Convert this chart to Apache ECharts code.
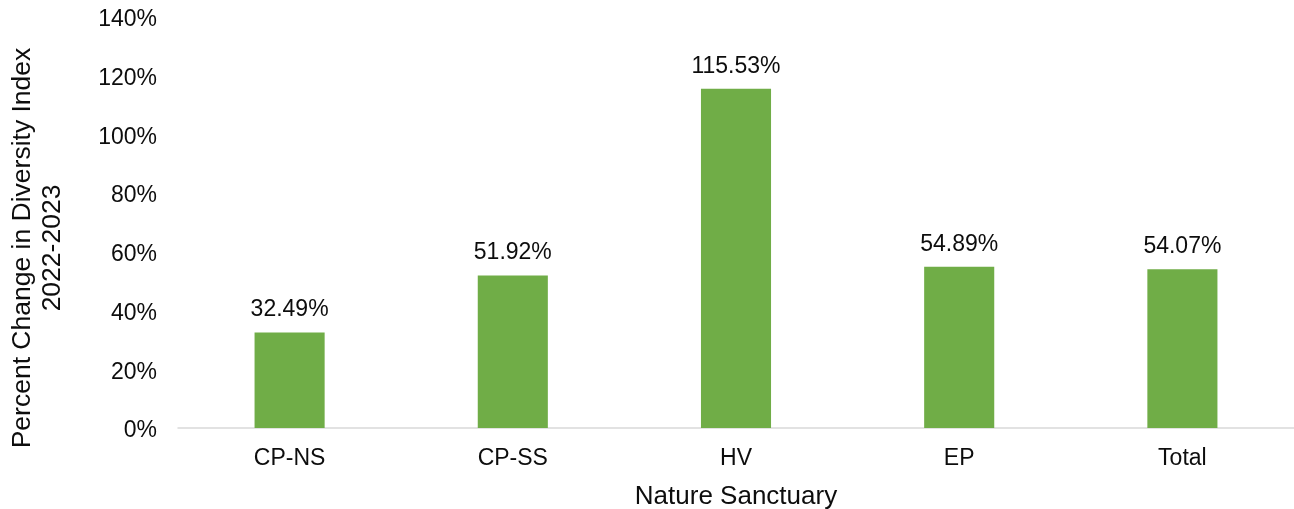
<!DOCTYPE html>
<html>
<head>
<meta charset="utf-8">
<title>Percent Change in Diversity Index 2022-2023</title>
<script src="https://cdn.jsdelivr.net/npm/echarts@6/dist/echarts.min.js"></script>
<style>
  html, body { margin: 0; padding: 0; background: #ffffff; }
  #chart { width: 1294px; height: 509px; }
</style>
</head>
<body>
<div id="chart"></div>
<script>
// Nature sanctuaries and the percent change of their diversity index
const categories = ['CP-NS', 'CP-SS', 'HV', 'EP', 'Total'];
const percentChange = [32.49, 51.92, 115.53, 54.89, 54.07];
const yTicks = { min: 0, max: 140, interval: 20 };
const xTitle = 'Nature Sanctuary';
const yTitleLines = ['Percent Change in Diversity Index', '2022-2023'];

const FONT = '"Liberation Sans", Arial, sans-serif';
const TEXT = '#0d0d0d';
const BAR = '#70ad47';

const chart = echarts.init(document.getElementById('chart'), null, { renderer: 'canvas' });

chart.setOption({
  animation: false,
  backgroundColor: '#ffffff',
  textStyle: { fontFamily: FONT, color: TEXT },
  grid: {
    left: 178, right: 0, top: 17, bottom: 81,
    containLabel: false,
    outerBoundsMode: 'none'
  },
  xAxis: {
    type: 'category',
    data: categories,
    name: xTitle,
    nameLocation: 'middle',
    nameGap: 56,
    nameTextStyle: { fontFamily: FONT, fontSize: 26, color: TEXT },
    axisLine: { show: true, lineStyle: { color: '#d9d9d9', width: 1.5 } },
    axisTick: { show: false },
    axisLabel: { fontFamily: FONT, fontSize: 23, color: TEXT, margin: 19 }
  },
  yAxis: {
    type: 'value',
    min: yTicks.min,
    max: yTicks.max,
    interval: yTicks.interval,
    axisLine: { show: false },
    axisTick: { show: false },
    splitLine: { show: false },
    axisLabel: {
      fontFamily: FONT, fontSize: 23, color: TEXT, margin: 21,
      formatter: v => '{v|' + v + '%}',
      rich: {
        v: { fontFamily: FONT, fontSize: 23, color: TEXT, padding: [6, 0, 0, 0] }
      }
    }
  },
  series: [{
    type: 'bar',
    data: percentChange,
    barWidth: '31.4%',
    itemStyle: { color: BAR },
    label: {
      show: true,
      position: 'top',
      distance: 11,
      fontFamily: FONT,
      fontSize: 23,
      color: TEXT,
      formatter: p => p.value.toFixed(2) + '%'
    }
  }],
  graphic: [{
    type: 'text',
    x: 38,
    y: 248,
    rotation: Math.PI / 2,
    style: {
      text: yTitleLines.join('\n'),
      font: '26.5px ' + FONT,
      fill: TEXT,
      align: 'center',
      verticalAlign: 'middle',
      lineHeight: 30
    }
  }]
});
</script>
</body>
</html>
